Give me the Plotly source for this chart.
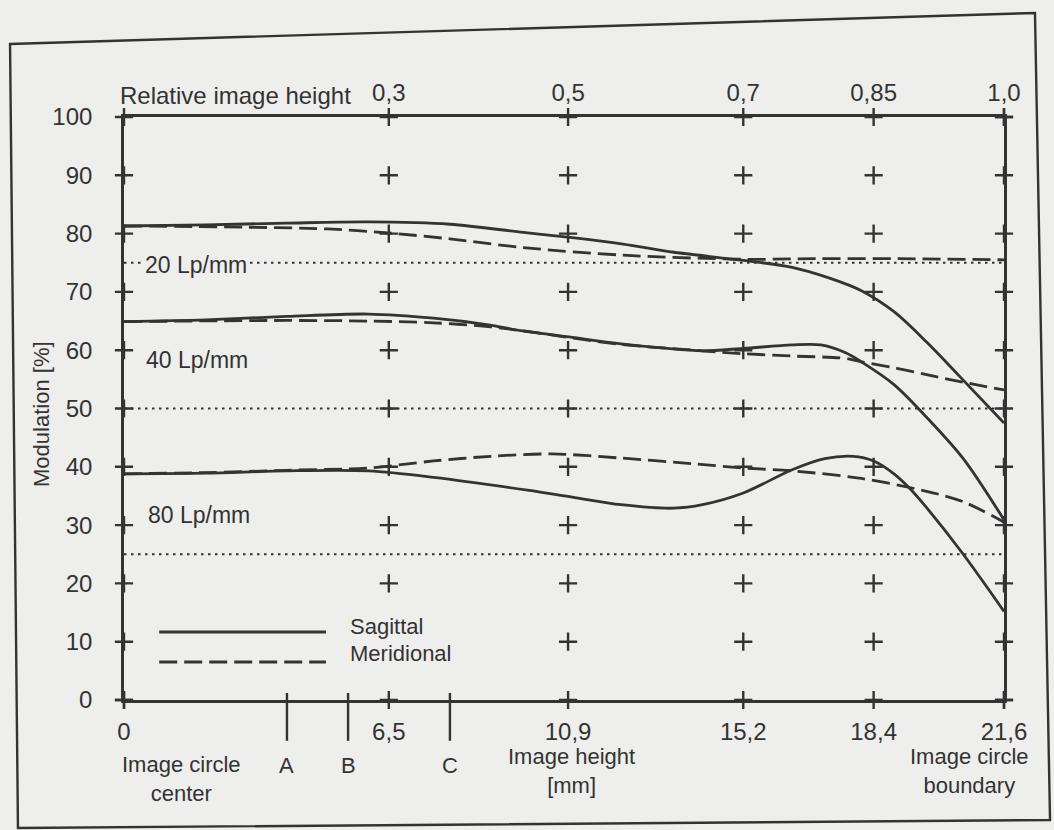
import plotly.graph_objects as go

# ---------------- data ----------------
X_RANGE = [0, 21.6]
Y_RANGE = [0, 100]
X_TICKS = [0, 6.5, 10.9, 15.2, 18.4, 21.6]
X_TICK_TEXT = ["0", "6,5", "10,9", "15,2", "18,4", "21,6"]
REL_TICKS = [6.5, 10.9, 15.2, 18.4, 21.6]
REL_TICK_TEXT = ["0,3", "0,5", "0,7", "0,85", "1,0"]
Y_TICKS = [0, 10, 20, 30, 40, 50, 60, 70, 80, 90, 100]
MARK_X = [4.0, 5.5, 8.0]
MARK_TEXT = ["A", "B", "C"]
GRID_X = [6.5, 10.9, 15.2, 18.4]
GRID_Y = [10, 20, 30, 40, 50, 60, 70, 80, 90]

FREQ_LABELS = ["20 Lp/mm", "40 Lp/mm", "80 Lp/mm"]
FREQ_THRESH = [75, 50, 25]

# 20 Lp/mm
S20_X = [0, 2, 4, 6, 8, 9.8, 11, 12.25, 13.5, 15.2, 16.4, 17.3, 18.1, 18.9, 19.7, 20.5, 21.6]
S20_Y = [81.3, 81.5, 81.8, 82.0, 81.6, 80.2, 79.3, 78.2, 76.8, 75.4, 74.2, 72.4, 70.2, 66.6, 61.4, 55.6, 47.5]
M20_X = [0, 3, 5, 6.5, 8, 9.8, 12.25, 15.2, 17, 19, 21.6]
M20_Y = [81.3, 81.1, 80.8, 80.1, 79.1, 77.6, 76.3, 75.6, 75.7, 75.7, 75.5]

# 40 Lp/mm
S40_X = [0, 2, 4, 6, 7.6, 8.9, 9.8, 11, 12.2, 13.2, 14.2, 15.2, 16.4, 17.1, 17.7, 18.1, 18.9, 19.7, 20.6, 21.6]
S40_Y = [64.9, 65.2, 65.8, 66.2, 65.5, 64.4, 63.3, 62.2, 61.1, 60.4, 59.9, 60.3, 60.9, 60.9, 59.6, 58.0, 54.1, 48.5, 41.4, 30.9]
M40_X = [0, 4, 6, 7.6, 9, 9.8, 12.2, 14.2, 15.2, 16.4, 17.7, 18.1, 18.9, 19.7, 20.6, 21.6]
M40_Y = [64.9, 65.1, 65.0, 64.7, 64.0, 63.3, 61.0, 59.9, 59.4, 59.0, 58.6, 58.0, 57.0, 55.8, 54.5, 53.2]

# 80 Lp/mm
S80_X = [0, 2, 4, 6, 7.6, 9.9, 11, 12.2, 13.5, 14.2, 15.2, 16.4, 17.2, 17.9, 18.4, 18.9, 19.3, 19.7, 20.6, 21.6]
S80_Y = [38.8, 38.9, 39.3, 39.3, 38.2, 36.0, 34.8, 33.5, 32.9, 33.5, 35.5, 39.5, 41.4, 41.8, 41.0, 38.8, 36.2, 33.0, 25.0, 15.2]
M80_X = [0, 2, 4, 6, 7.6, 9, 10.5, 12.2, 14, 15.2, 16.4, 18.1, 19.7, 20.6, 21.6]
M80_Y = [38.8, 39.0, 39.4, 39.8, 41.0, 41.8, 42.2, 41.5, 40.5, 39.8, 39.3, 38.0, 35.8, 34.0, 30.5]

# ---------------- style ----------------
INK = "#333333"
BG = "#eeeeec"
FONT = "Liberation Sans, Arial, sans-serif"
LW = 2.8
DASH = "18px,7px"
DOT = "2.5px,4.5px"

fig = go.Figure()

# threshold dotted lines
for th in FREQ_THRESH:
    fig.add_trace(go.Scatter(x=X_RANGE, y=[th, th], mode="lines",
                             line=dict(color=INK, width=2, dash=DOT),
                             hoverinfo="skip", showlegend=False))

curves = [
    (S20_X, S20_Y, "solid"), (M20_X, M20_Y, DASH),
    (S40_X, S40_Y, "solid"), (M40_X, M40_Y, DASH),
    (S80_X, S80_Y, "solid"), (M80_X, M80_Y, DASH),
]
for xs, ys, dash in curves:
    fig.add_trace(go.Scatter(x=xs, y=ys, mode="lines",
                             line=dict(color=INK, width=LW, dash=dash,
                                       shape="spline", smoothing=0.9),
                             hoverinfo="skip", showlegend=False, cliponaxis=False))

# grid crosses
gx, gy = [], []
for x in GRID_X:
    for y in GRID_Y:
        if x == GRID_X[0] and y == GRID_Y[0]:
            continue  # covered by legend
        gx.append(x)
        gy.append(y)
cross = dict(symbol="cross-thin", size=13, line=dict(color=INK, width=2.4), color=INK)
fig.add_trace(go.Scatter(x=gx, y=gy, mode="markers", marker=cross,
                         hoverinfo="skip", showlegend=False, cliponaxis=False))

# axis crosses (left, right, bottom)
ax_x = [X_RANGE[0]] * len(Y_TICKS) + [X_RANGE[1]] * len(Y_TICKS) + X_TICKS
ax_y = Y_TICKS + Y_TICKS + [Y_RANGE[0]] * len(X_TICKS)
fig.add_trace(go.Scatter(x=ax_x, y=ax_y, mode="markers", marker=cross,
                         hoverinfo="skip", showlegend=False, cliponaxis=False))
# top axis crosses on relative-height axis
fig.add_trace(go.Scatter(x=REL_TICKS, y=[Y_RANGE[1]] * len(REL_TICKS), mode="markers",
                         marker=cross, xaxis="x2", hoverinfo="skip",
                         showlegend=False, cliponaxis=False))

# long A/B/C ticks
shapes = []
for mx in MARK_X:
    shapes.append(dict(type="line", xref="x", yref="paper", x0=mx, x1=mx,
                       y0=0.012, y1=-0.07, line=dict(color=INK, width=2.4)))

# legend lines
shapes.append(dict(type="line", xref="paper", yref="paper", x0=0.040, x1=0.2295,
                   y0=0.1166, y1=0.1166, line=dict(color=INK, width=LW)))
shapes.append(dict(type="line", xref="paper", yref="paper", x0=0.040, x1=0.2295,
                   y0=0.0652, y1=0.0652, line=dict(color=INK, width=LW, dash=DASH)))

# scanned page frame
shapes.append(dict(type="path", xref="paper", yref="paper",
                   path="M -0.1295,1.1252 L 1.0352,1.1784 L 1.0523,-0.2058 L -0.1205,-0.2196 Z",
                   line=dict(color=INK, width=2.4), layer="below"))

ann = []
def A(text, x, y, xref="paper", yref="paper", xanchor="center", yanchor="middle",
      size=23, **kw):
    ann.append(dict(text=text, x=x, y=y, xref=xref, yref=yref, xanchor=xanchor,
                    yanchor=yanchor, showarrow=False,
                    font=dict(family=FONT, size=size, color=INK), **kw))

A("Relative image height", -0.0068, 1.0377, xanchor="left", size=24)
A("Modulation [%]", -0.0932, 0.4906, size=22, textangle=-90)
A("Image circle<br>center", 0.0659, -0.1355, size=22)
A("Image height<br>[mm]", 0.508, -0.122, size=22)
A("Image circle<br>boundary", 0.961, -0.121, size=22)
for mx, mt in zip(MARK_X, MARK_TEXT):
    A(mt, mx, -0.113, xref="x", size=22)
A("Sagittal", 0.2545, 0.126, xanchor="left", size=22)
A("Meridional", 0.2545, 0.079, xanchor="left", size=22)
A(FREQ_LABELS[0], 0.0216, 0.746, xanchor="left", size=23, bgcolor=BG, borderpad=1)
A(FREQ_LABELS[1], 0.0224, 0.583, xanchor="left", size=23)
A(FREQ_LABELS[2], 0.0250, 0.318, xanchor="left", size=23)

fig.update_layout(
    width=1054, height=830,
    margin=dict(l=124, r=50, t=117, b=130),
    paper_bgcolor=BG, plot_bgcolor=BG,
    font=dict(family=FONT, size=24, color=INK),
    shapes=shapes, annotations=ann, showlegend=False,
    xaxis=dict(range=X_RANGE, showline=True, linewidth=2.8, linecolor=INK,
               mirror=True, ticks="", tickvals=X_TICKS, ticktext=X_TICK_TEXT,
               ticklabelstandoff=8, showgrid=False, zeroline=False,
               tickfont=dict(size=24)),
    xaxis2=dict(range=X_RANGE, overlaying="x", side="top", showline=False,
                ticks="", tickvals=REL_TICKS, ticktext=REL_TICK_TEXT,
                ticklabelstandoff=10, showgrid=False, zeroline=False,
                tickfont=dict(size=24)),
    yaxis=dict(range=Y_RANGE, showline=True, linewidth=2.8, linecolor=INK,
               mirror=True, ticks="", tickvals=Y_TICKS, ticklabelstandoff=24,
               showgrid=False, zeroline=False, tickfont=dict(size=24)),
)

fig.write_html(
    "out.html",
    config={"displayModeBar": False, "staticPlot": True},
    post_script="document.body.style.margin='0px';"
                "document.body.style.background='#eeeeec';",
)
